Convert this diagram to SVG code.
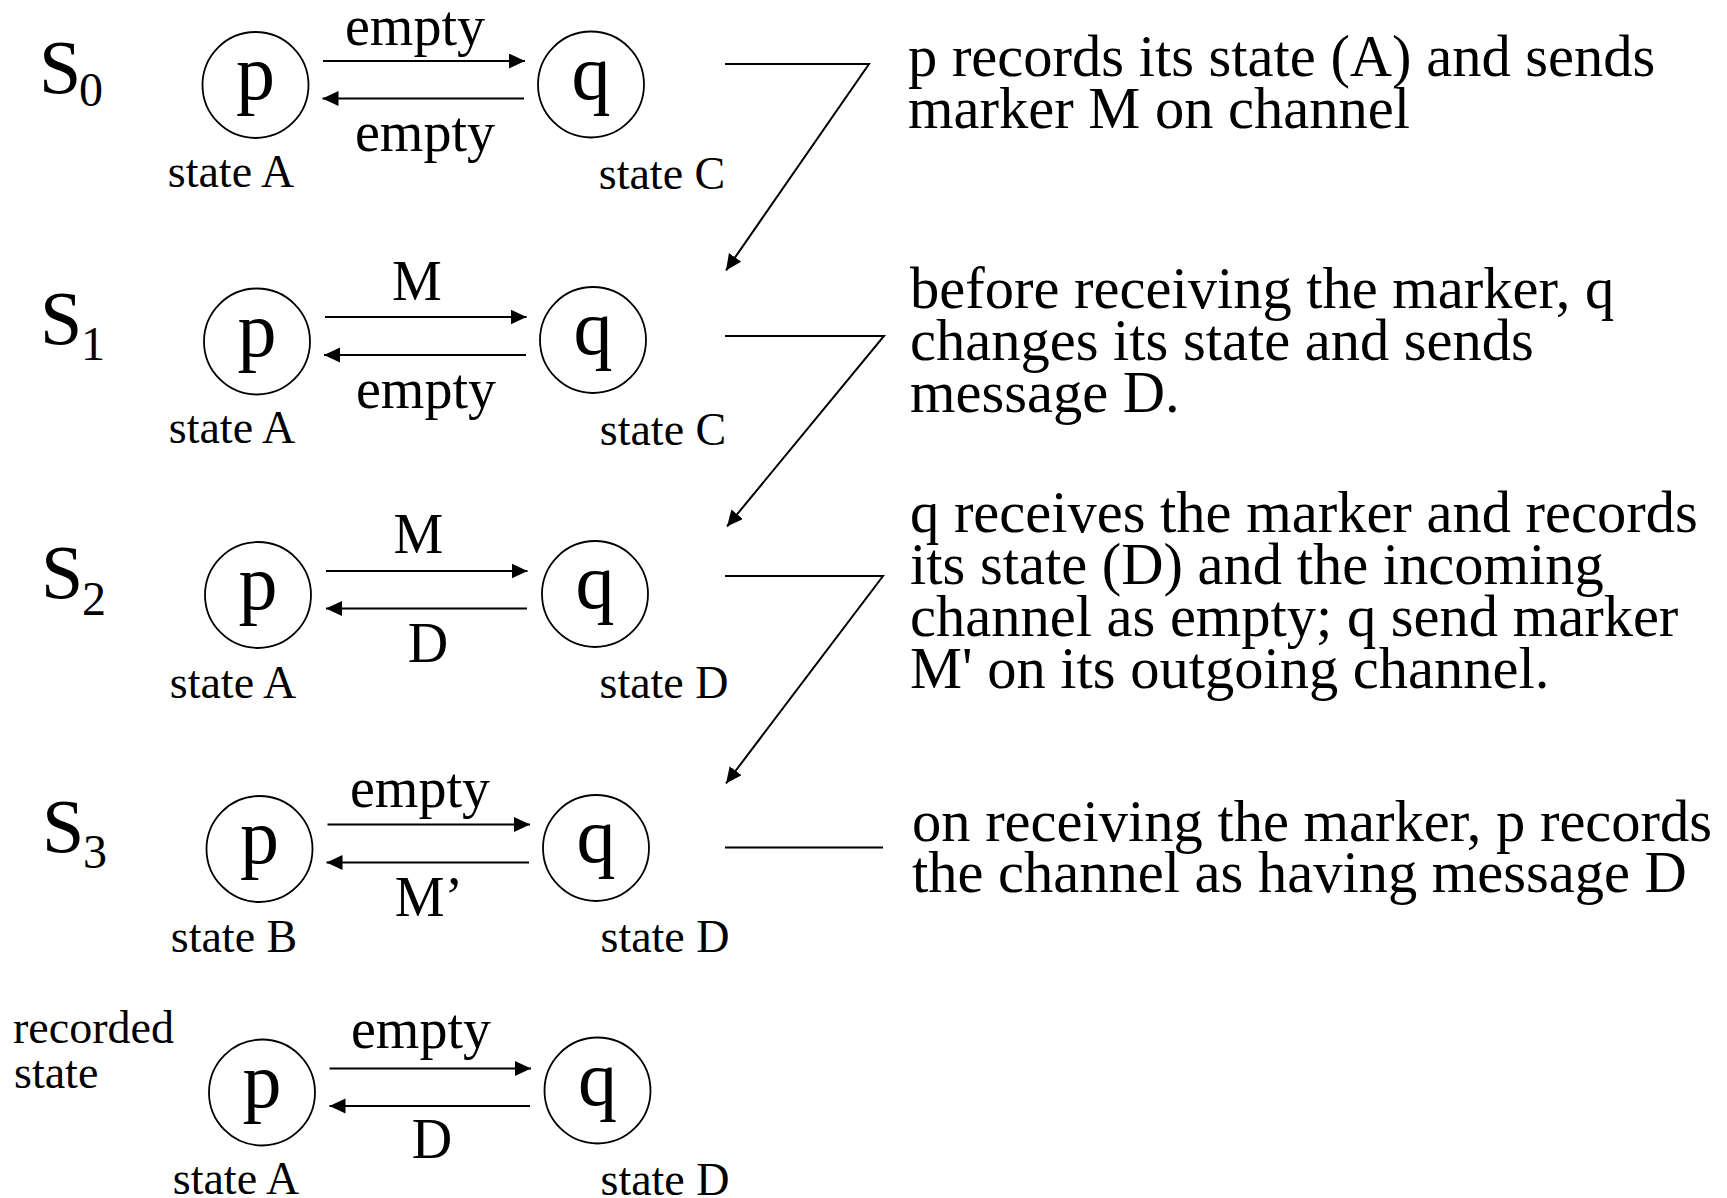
<svg xmlns="http://www.w3.org/2000/svg" width="1727" height="1198" viewBox="0 0 1727 1198">
<style>
text{font-family:"Liberation Serif","Times New Roman",serif;fill:#000}
.node circle{fill:none;stroke:#000;stroke-width:1.8}
.node text{font-size:78px;text-anchor:middle}
.st{font-size:46px}
.stc{font-size:46px;text-anchor:middle}
.ch{font-size:56px;text-anchor:middle}
.S{font-size:76px}
.sub{font-size:48px}
.desc{font-size:58.5px}
.edge{fill:none;stroke:#000;stroke-width:2}
.lead{fill:none;stroke:#000;stroke-width:2}
</style>
<defs>
<marker id="ah" markerUnits="userSpaceOnUse" markerWidth="17" markerHeight="16" refX="16" refY="7.5" orient="auto">
<path d="M0,0 L16,7.5 L0,15 z" fill="#000"/>
</marker>
</defs>

<g id="labels-rows">
<text class="S" x="39" y="93">S</text><text class="sub" x="79" y="106">0</text>
<text class="S" x="40" y="344">S</text><text class="sub" x="81" y="360">1</text>
<text class="S" x="41" y="598">S</text><text class="sub" x="82" y="615">2</text>
<text class="S" x="42" y="852">S</text><text class="sub" x="83" y="868">3</text>
<text class="st" x="13" y="1043">recorded</text>
<text class="st" x="14" y="1088">state</text>
</g>

<g id="s0-p" class="node"><circle cx="255.5" cy="85" r="53"/><text x="255.5" y="99">p</text></g>
<g id="s0-q" class="node"><circle cx="591" cy="84.5" r="53"/><text x="591" y="99">q</text></g>
<g id="s1-p" class="node"><circle cx="257" cy="341.5" r="53"/><text x="257" y="356">p</text></g>
<g id="s1-q" class="node"><circle cx="593" cy="340" r="53"/><text x="593" y="354">q</text></g>
<g id="s2-p" class="node"><circle cx="258" cy="595" r="53"/><text x="258" y="609">p</text></g>
<g id="s2-q" class="node"><circle cx="595" cy="594" r="53"/><text x="595" y="608">q</text></g>
<g id="s3-p" class="node"><circle cx="259.5" cy="849" r="53"/><text x="259.5" y="863">p</text></g>
<g id="s3-q" class="node"><circle cx="596" cy="848" r="53"/><text x="596" y="862">q</text></g>
<g id="rec-p" class="node"><circle cx="262" cy="1092.5" r="53"/><text x="262" y="1107">p</text></g>
<g id="rec-q" class="node"><circle cx="597.5" cy="1090.5" r="53"/><text x="597.5" y="1105">q</text></g>

<g id="labels-states">
<text class="stc" x="231" y="187">state A</text>
<text class="stc" x="662" y="189">state C</text>
<text class="stc" x="232" y="443">state A</text>
<text class="stc" x="663" y="445">state C</text>
<text class="stc" x="233" y="698">state A</text>
<text class="stc" x="664" y="698">state D</text>
<text class="stc" x="234" y="952">state B</text>
<text class="stc" x="665" y="952">state D</text>
<text class="stc" x="236" y="1194">state A</text>
<text class="stc" x="665" y="1195">state D</text>
</g>

<g id="labels-channels">
<text class="ch" x="415" y="45">empty</text>
<text class="ch" x="425" y="151">empty</text>
<text class="ch" x="417" y="300">M</text>
<text class="ch" x="426" y="408">empty</text>
<text class="ch" x="418.5" y="553">M</text>
<text class="ch" x="428" y="662">D</text>
<text class="ch" x="420" y="807">empty</text>
<text class="ch" x="429" y="916">M’</text>
<text class="ch" x="421" y="1048">empty</text>
<text class="ch" x="432" y="1158">D</text>
</g>

<g id="labels-desc" class="desc">
<text x="908" y="76">p records its state (A) and sends</text>
<text x="908" y="128">marker M on channel</text>
<text x="910" y="308">before receiving the marker, q</text>
<text x="910" y="360">changes its state and sends</text>
<text x="910" y="412">message D.</text>
<text x="910" y="532">q receives the marker and records</text>
<text x="910" y="584">its state (D) and the incoming</text>
<text x="910" y="636">channel as empty; q send marker</text>
<text x="910" y="688">M' on its outgoing channel.</text>
<text x="912" y="841">on receiving the marker, p records</text>
<text x="912" y="892">the channel as having message D</text>
</g>

<g id="connectors">
<line class="edge" x1="323" y1="61" x2="525" y2="61" marker-end="url(#ah)"/>
<line class="edge" x1="524" y1="98.5" x2="322.5" y2="98.5" marker-end="url(#ah)"/>
<line class="edge" x1="325" y1="317" x2="526.5" y2="317" marker-end="url(#ah)"/>
<line class="edge" x1="526" y1="355" x2="324" y2="355" marker-end="url(#ah)"/>
<line class="edge" x1="326" y1="571" x2="527.5" y2="571" marker-end="url(#ah)"/>
<line class="edge" x1="527" y1="608.5" x2="326" y2="608.5" marker-end="url(#ah)"/>
<line class="edge" x1="327.5" y1="824.5" x2="530" y2="824.5" marker-end="url(#ah)"/>
<line class="edge" x1="529" y1="862.5" x2="326.5" y2="862.5" marker-end="url(#ah)"/>
<line class="edge" x1="329.5" y1="1068.5" x2="531" y2="1068.5" marker-end="url(#ah)"/>
<line class="edge" x1="530" y1="1106" x2="329.5" y2="1106" marker-end="url(#ah)"/>
<polyline class="lead" points="725,64 869,64 726,270.5" marker-end="url(#ah)"/>
<polyline class="lead" points="725,336 884,336 727,526.5" marker-end="url(#ah)"/>
<polyline class="lead" points="725,576 883,576 726,783.5" marker-end="url(#ah)"/>
<line class="lead" x1="725" y1="847.5" x2="883" y2="847.5"/>
</g>
</svg>
